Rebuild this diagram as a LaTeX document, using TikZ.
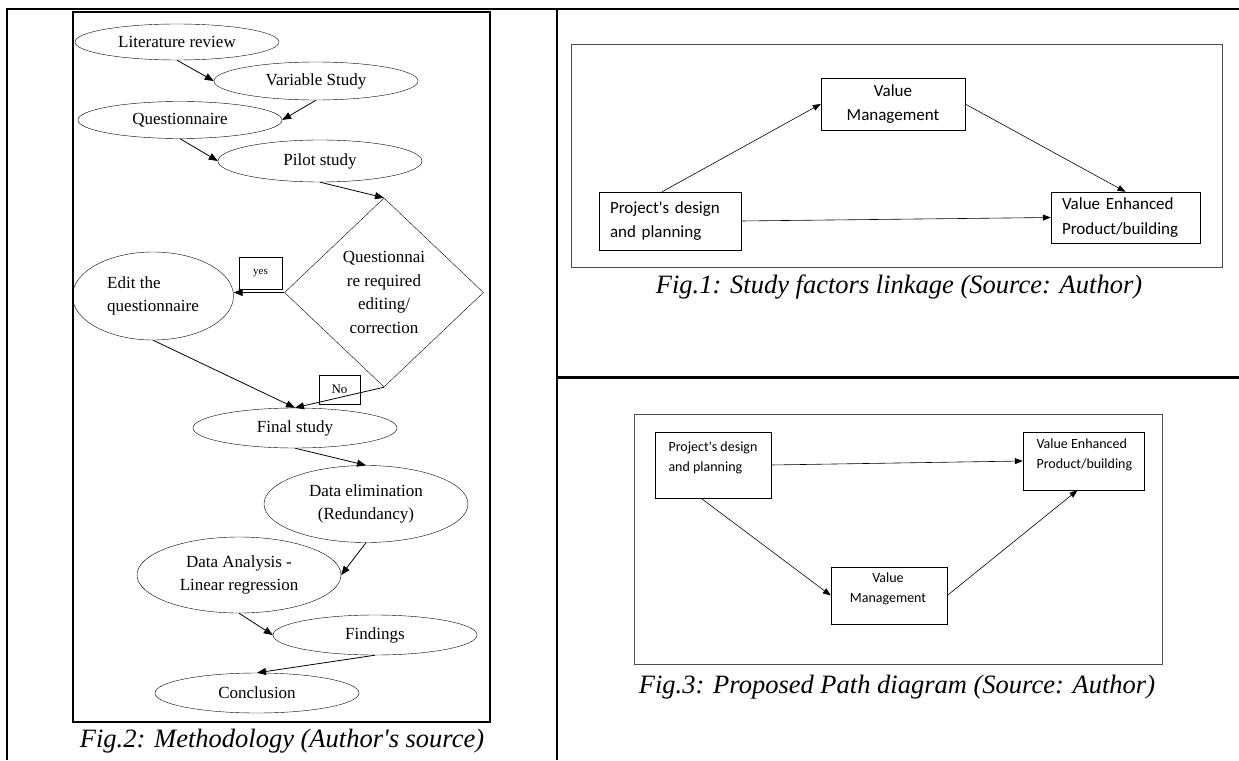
\documentclass[tikz,border=0pt]{standalone}
\usepackage{fontspec}
\setmainfont{Liberation Serif}
\newfontfamily\boxfont{Carlito}
\usetikzlibrary{shapes.geometric,arrows.meta}

\newcommand\flowfont{\fontsize{17}{23.5}\selectfont}
\newcommand\sansA{\boxfont\fontsize{17}{24.5}\selectfont}
\newcommand\sansB{\boxfont\fontsize{14}{20}\selectfont}

\begin{document}
\begin{tikzpicture}[x=1pt,y=-1pt,
  stage/.style={draw, ellipse, minimum width=204pt, minimum height=40pt, inner sep=1pt, font=\flowfont, align=center},
  choice/.style={draw, diamond, minimum width=199pt, minimum height=189pt, inner sep=0pt, font=\flowfont, align=center},
  tag/.style={draw, inner sep=0pt},
  factor/.style={draw, rectangle, inner sep=0pt},
  flow/.style={-{Triangle[length=9pt,width=7pt]}, line width=0.8pt},
  link/.style={-{Triangle[length=8pt,width=6pt]}, line width=0.6pt},
  panel/.style={draw=black!70, line width=1pt},
  caption/.style={font=\itshape\fontsize{26.5}{30}\selectfont},
  rule/.style={line width=2.5pt}]

\useasboundingbox (0,0) rectangle (1239,760);

% Draw the table rules
\draw[rule] (5.5,9) -- (1239,9);
\draw[line width=1.6pt] (7,9) -- (7,760);
\draw[rule] (557,9) -- (557,760);
\draw[rule] (557,377.5) -- (1239,377.5);

% Draw the frames round the figures
\draw[line width=1.8pt] (73,12) rectangle (490,722);
\draw[panel] (571,45) rectangle (1222,267);
\draw[panel] (634,414) rectangle (1162,664);

% Draw the methodology stages
\node[stage, minimum height=36pt] (lit) at (177,42) {Literature review};
\node[stage, minimum height=38pt] (var) at (316,81) {Variable Study};
\node[stage, minimum height=37pt] (quest) at (180,120) {Questionnaire};
\node[stage, minimum height=42pt] (pilot) at (320,161) {Pilot study};
\node[choice] (dia) at (384,292.5) {Questionnai\\re required\\editing/\\correction};
\node[stage, minimum width=161pt, minimum height=88pt, align=left] (edit) at (153,296) {Edit the\\questionnaire};
\node[stage] (final) at (295,428) {Final study};
\node[stage, minimum height=77pt] (elim) at (366,504) {Data elimination\\(Redundancy)};
\node[stage, minimum height=76pt] (anal) at (239,575) {Data Analysis -\\Linear regression};
\node[stage] (find) at (375,635) {Findings};
\node[stage] (concl) at (257,693) {Conclusion};

% Draw the yes/no tags
\node[tag, minimum width=43pt, minimum height=32pt, font=\fontsize{11}{12}\selectfont] (yes) at (260.5,273) {yes};
\node[tag, minimum width=41pt, minimum height=29pt, font=\fontsize{13}{14}\selectfont] (no) at (339.5,389.5) {No};

% Draw the connections of the methodology
\draw[flow] (lit.south) -- (var.west);
\draw[flow] (var.south) -- (quest.east);
\draw[flow] (quest.south) -- (pilot.west);
\draw[flow] (pilot.south) -- (dia.north);
\draw[flow] (dia.west) -- (dia.west -| edit.east);
\draw[flow] (dia.south) -- (final.north);
\draw[flow] (edit.south) -- (final.north);
\draw[flow] (final.south) -- (elim.north);
\draw[flow] (elim.south) -- (anal.east);
\draw[flow] (anal.south) -- (find.west);
\draw[flow] (find.south) -- (concl.north);

% Draw the factors of fig 1
\node[factor, minimum width=142pt, minimum height=58pt, text width=120pt, align=left, font=\sansA] (proj1) at (670,221) {Project\textquotesingle s design\\and planning};
\node[factor, minimum width=144pt, minimum height=52pt, align=center, font=\sansA] (vm1) at (893,104) {Value\\Management};
\node[factor, minimum width=149pt, minimum height=51pt, text width=127pt, align=left, font=\sansA] (ve1) at (1125.5,217.5) {Value Enhanced\\Product/building};

\draw[link] ([xshift=-8pt]proj1.north) -- (vm1.west);
\draw[link] (vm1.east) -- (ve1.north);
\draw[link] (proj1.east) -- (ve1.west);

% Draw the factors of fig 3
\node[factor, minimum width=116pt, minimum height=66pt] (proj3) at (713,465) {};
\node[anchor=west, align=left, font=\sansB] (proj3txt) at (665,457.5) {Project\textquotesingle s design\\and planning};
\node[factor, minimum width=121pt, minimum height=58pt] (ve3) at (1083.5,461) {};
\node[anchor=west, align=left, font=\sansB] (ve3txt) at (1033,455) {Value Enhanced\\Product/building};
\node[factor, minimum width=116pt, minimum height=57pt] (vm3) at (889,595.5) {};
\node[align=center, font=\sansB] (vm3txt) at (888,588.5) {Value\\Management};

\draw[link] (proj3.east) -- (ve3.west);
\draw[link] ([xshift=-12pt]proj3.south) -- (vm3.west);
\draw[link] (vm3.east) -- ([xshift=-6pt]ve3.south);

% Draw the captions
\node[caption] (cap2) at (282,741) {Fig.2: Methodology (Author\textquotesingle s source)};
\node[caption] (cap1) at (899,287) {Fig.1: Study factors linkage (Source: Author)};
\node[caption] (cap3) at (897,687) {Fig.3: Proposed Path diagram (Source: Author)};

\end{tikzpicture}
\end{document}
